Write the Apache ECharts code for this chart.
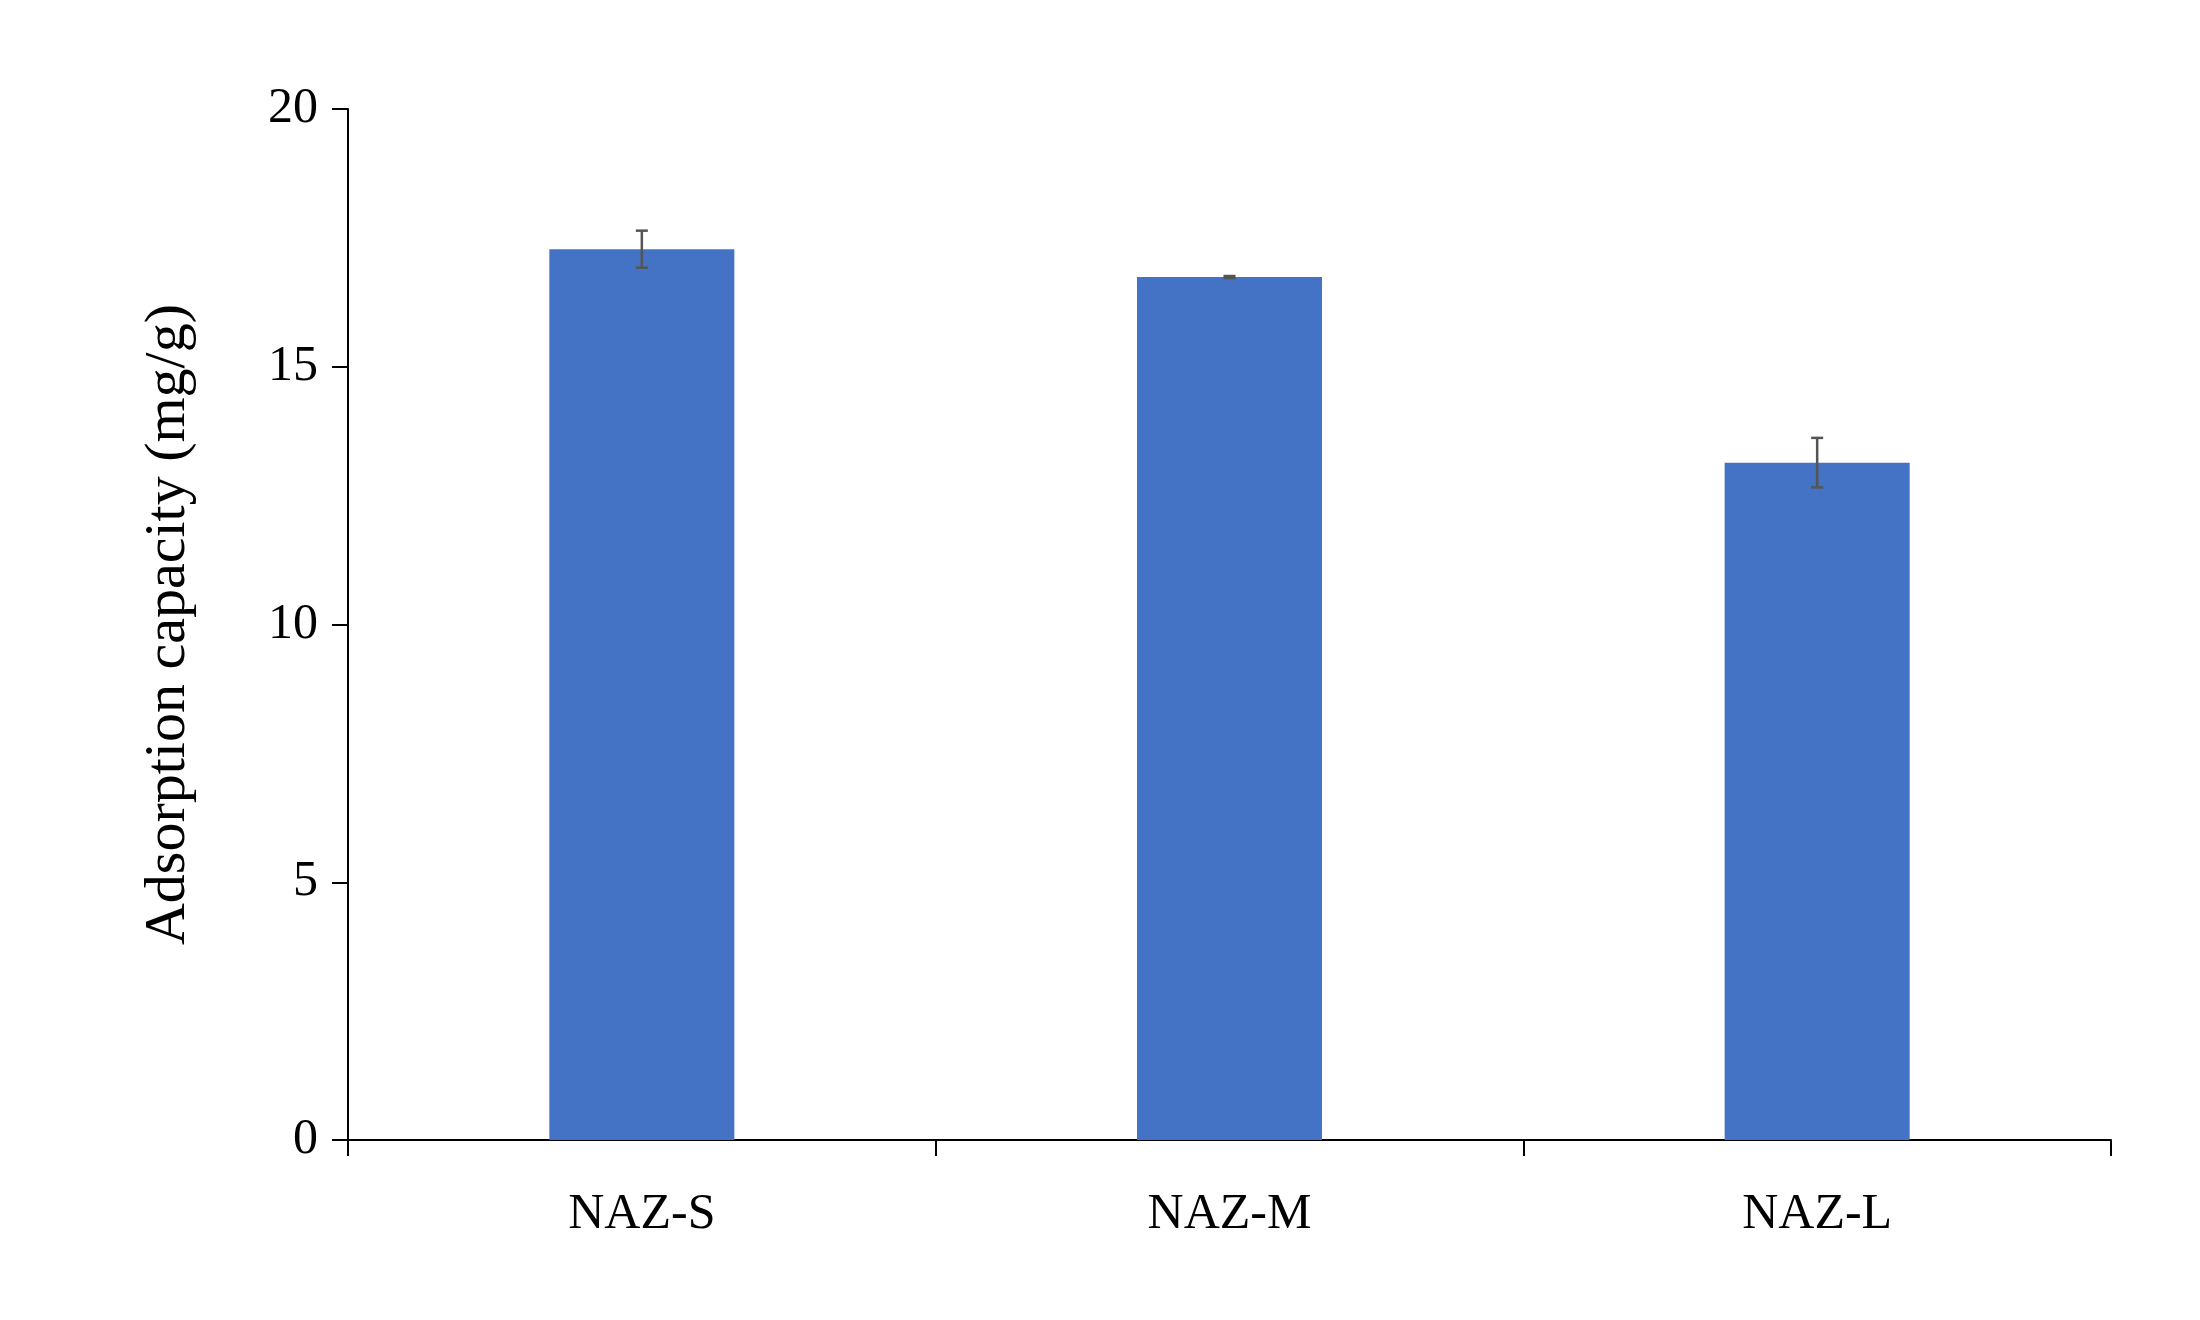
<!DOCTYPE html>
<html>
<head>
<meta charset="utf-8">
<script src="https://cdn.jsdelivr.net/npm/echarts@6/dist/echarts.min.js"></script>
<style>html,body{margin:0;background:#fff}#chart{width:2200px;height:1320px}</style>
</head>
<body>
<div id="chart"></div>
<script>
var categories = ['NAZ-S', 'NAZ-M', 'NAZ-L'];
var values = [17.28, 16.74, 13.14];
var errors = [0.36, 0.02, 0.48];
var yTicks = [0, 5, 10, 15, 20];

var font = 'Liberation Serif';
var chart = echarts.init(document.getElementById('chart'));

var errData = values.map(function(v, i) { return [i, v - errors[i], v + errors[i]]; });

chart.setOption({
	animation: false,
	grid: { left: 348, right: 89, top: 109, bottom: 180 },
	xAxis: {
		type: 'category',
		data: categories,
		axisLine: { lineStyle: { color: '#000', width: 2 } },
		axisTick: { show: true, length: 16, lineStyle: { color: '#000', width: 2 } },
		axisLabel: { color: '#000', fontFamily: font, fontSize: 50, margin: 50 }
	},
	yAxis: {
		type: 'value',
		min: yTicks[0], max: yTicks[yTicks.length - 1], interval: 5,
		name: 'Adsorption capacity (mg/g)',
		nameLocation: 'middle', nameGap: 150,
		nameTextStyle: { color: '#000', fontFamily: font, fontSize: 58 },
		splitLine: { show: false },
		axisLine: { show: true, lineStyle: { color: '#000', width: 2 } },
		axisTick: { show: true, length: 16, lineStyle: { color: '#000', width: 2 } },
		axisLabel: { color: '#000', fontFamily: font, fontSize: 50, margin: 30 }
	},
	series: [
		{
			type: 'bar',
			data: values,
			barWidth: 185,
			itemStyle: { color: '#4472C4' }
		},
		{
			type: 'custom',
			data: errData,
			z: 10,
			renderItem: function(params, api) {
				var x = api.value(0);
				var lo = api.coord([x, api.value(1)]);
				var hi = api.coord([x, api.value(2)]);
				var hw = 6;
				var style = { stroke: '#555', lineWidth: 2.5 };
				return {
					type: 'group',
					children: [
						{ type: 'line', shape: { x1: lo[0], y1: lo[1], x2: hi[0], y2: hi[1] }, style: style },
						{ type: 'line', shape: { x1: lo[0] - hw, y1: lo[1], x2: lo[0] + hw, y2: lo[1] }, style: style },
						{ type: 'line', shape: { x1: hi[0] - hw, y1: hi[1], x2: hi[0] + hw, y2: hi[1] }, style: style }
					]
				};
			}
		}
	]
});
</script>
</body>
</html>
